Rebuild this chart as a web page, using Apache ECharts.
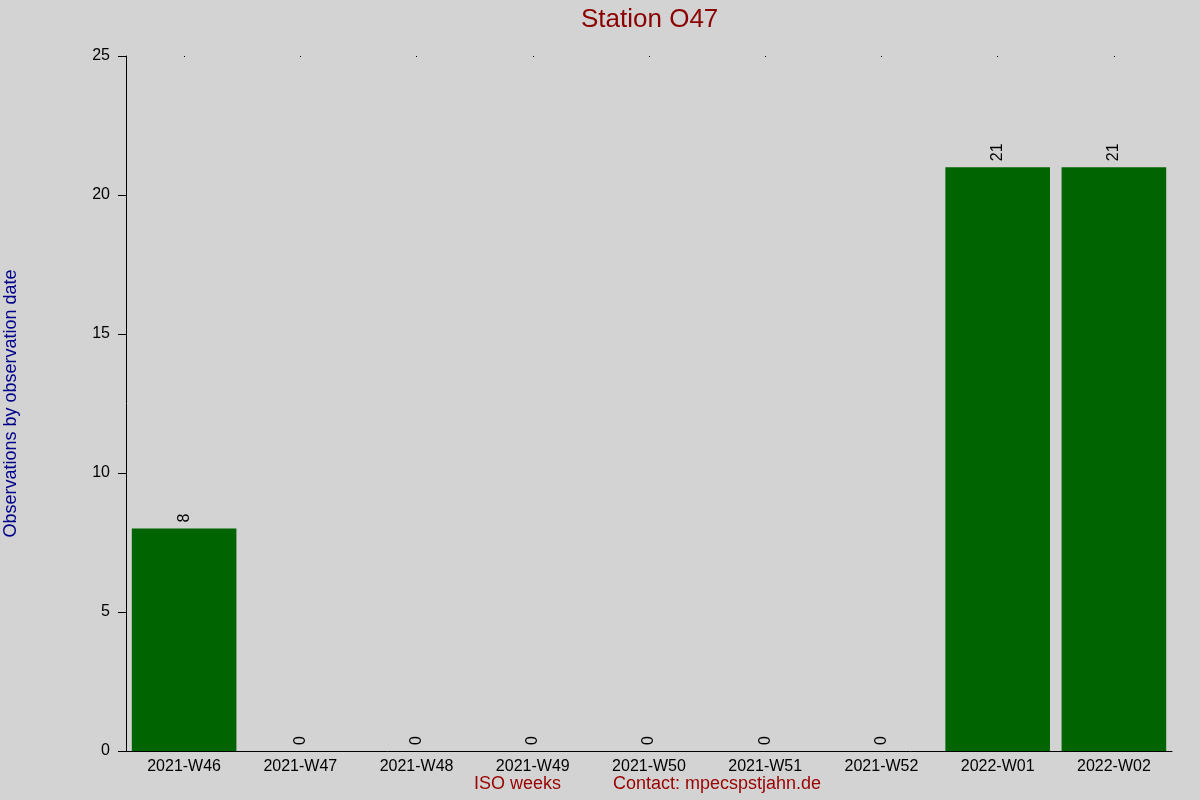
<!DOCTYPE html>
<html>
<head>
<meta charset="utf-8">
<title>Station O47</title>
<script src="https://cdn.jsdelivr.net/npm/echarts@6/dist/echarts.min.js"></script>
<style>
  html, body { margin: 0; padding: 0; background: #d3d3d3; }
  #chart { width: 1200px; height: 800px; }
</style>
</head>
<body>
<div id="chart"></div>
<script>
// data
const weeks = ['2021-W46', '2021-W47', '2021-W48', '2021-W49', '2021-W50',
               '2021-W51', '2021-W52', '2022-W01', '2022-W02'];
const observations = [8, 0, 0, 0, 0, 0, 0, 21, 21];
const yTicks = [0, 5, 10, 15, 20, 25];

const font = 'Liberation Sans, Arial, sans-serif';
const chart = echarts.init(document.getElementById('chart'));

const option = {
    backgroundColor: '#d3d3d3',
    animation: false,
    title: {
        text: 'Station O47',
        left: 576,
        top: 2,
        textStyle: { color: '#8b0000', fontSize: 26, fontWeight: 'normal', fontFamily: font }
    },
    grid: { left: 126, right: 28, top: 56, bottom: 49, outerBoundsMode: 'none', containLabel: false },
    xAxis: [{
        type: 'category',
        data: weeks,
        axisLine: { lineStyle: { color: '#000', width: 1 } },
        axisTick: { show: false },
        axisLabel: { color: '#000', fontSize: 16, fontFamily: font, margin: 8, interval: 0 }
    }, {
        type: 'category',
        data: weeks,
        position: 'top',
        axisLine: { show: false },
        axisTick: { show: true, alignWithLabel: true, length: 1, inside: true, lineStyle: { color: '#000' } },
        axisLabel: { show: false }
    }],
    yAxis: {
        type: 'value',
        min: yTicks[0],
        max: yTicks[yTicks.length - 1],
        interval: 5,
        name: 'Observations by observation date',
        nameLocation: 'middle',
        nameGap: 106,
        nameTextStyle: { color: '#00008b', fontSize: 18, fontFamily: font },
        axisLine: { show: true, lineStyle: { color: '#000', width: 1 } },
        axisTick: { show: true, length: 8, lineStyle: { color: '#000' } },
        axisLabel: { color: '#000', fontSize: 16, fontFamily: font, margin: 16 },
        splitLine: { show: false }
    },
    graphic: [{
        type: 'text',
        left: 474,
        top: 775,
        style: { text: 'ISO weeks', fill: '#990000', font: '18px ' + font }
    }, {
        type: 'text',
        left: 613,
        top: 775,
        style: { text: 'Contact: mpecspstjahn.de', fill: '#990000', font: '18px ' + font }
    }],
    series: [{
        type: 'bar',
        data: observations,
        barCategoryGap: '10%',
        itemStyle: { color: '#006400' },
        label: {
            show: true,
            position: 'top',
            rotate: 90,
            align: 'left',
            verticalAlign: 'middle',
            distance: 6,
            color: '#000',
            fontSize: 16,
            fontFamily: font
        }
    }]
};

chart.setOption(option);
</script>
</body>
</html>
